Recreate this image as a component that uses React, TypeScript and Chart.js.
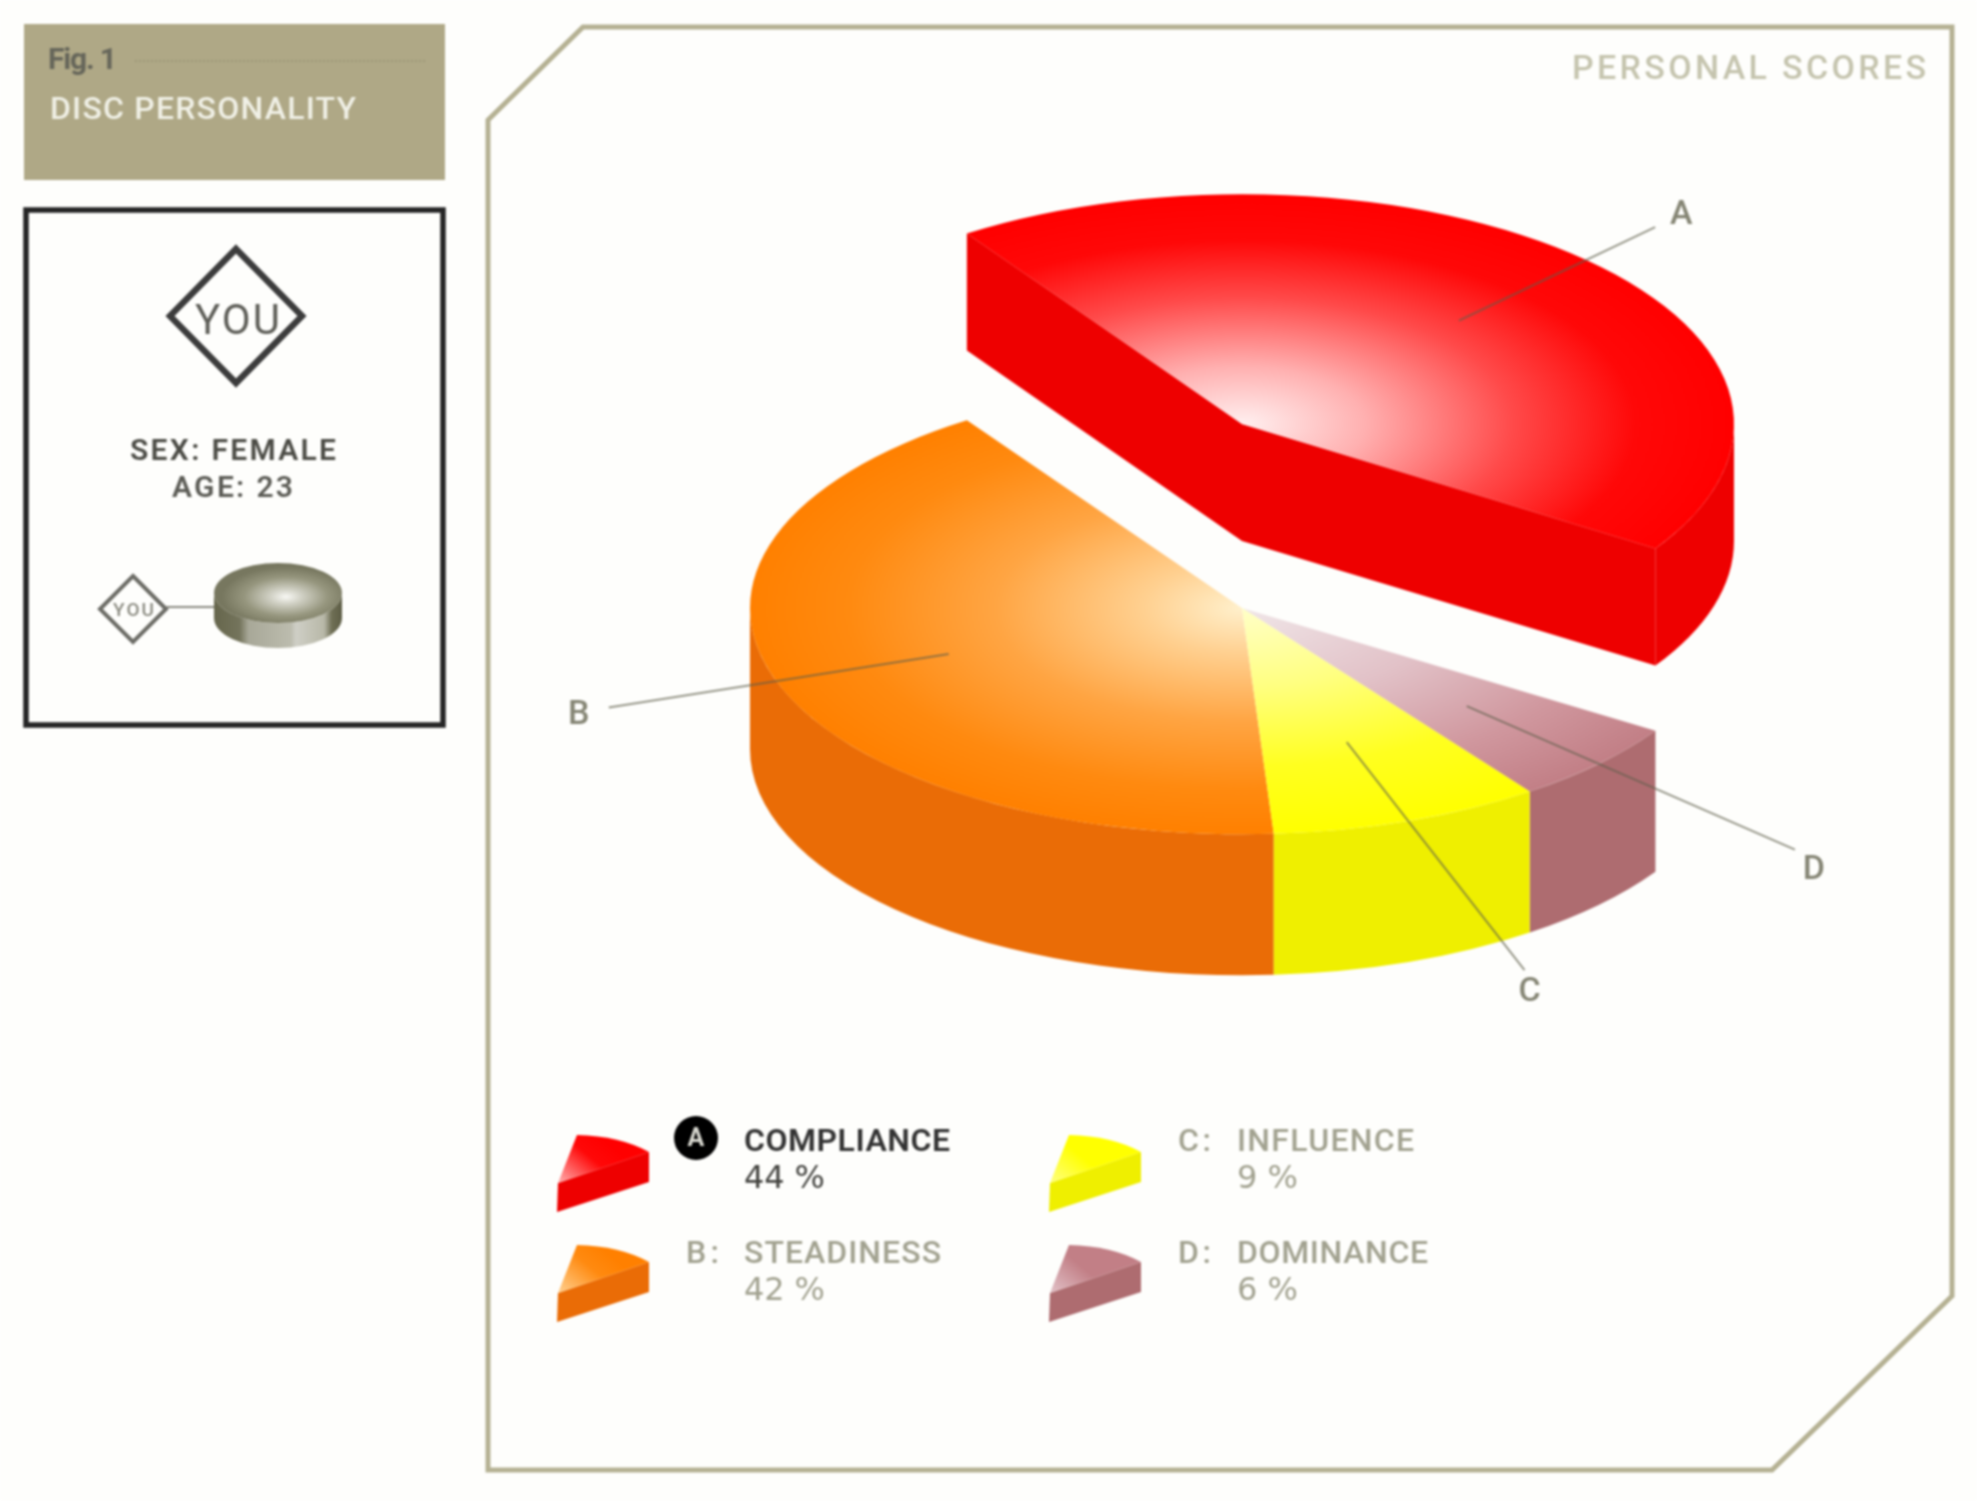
import React, { useEffect, useRef } from "react";
import { Chart, registerables } from "chart.js";

Chart.register(...registerables);

// ---- data ----
const sliceLetters = ["A", "D", "C", "B"];
const categories = ["COMPLIANCE", "DOMINANCE", "INFLUENCE", "STEADINESS"];
const scores = [44, 6, 9, 42];

// ---- styles ----
const topColors = [
  [[0, "#fff0f0"], [0.25, "#ffb0b0"], [0.55, "#ff4a4a"], [0.8, "#ff0808"], [1, "#ff0000"]],
  [[0, "#f0e6e8"], [0.4, "#e2c2c8"], [0.75, "#d0979e"], [1, "#c27f86"]],
  [[0, "#ffffc8"], [0.35, "#ffff80"], [0.7, "#ffff20"], [1, "#ffff00"]],
  [[0, "#fff0cc"], [0.2, "#ffd090"], [0.5, "#ffa543"], [0.8, "#ff8a10"], [1, "#ff8000"]],
];
const sideColors = ["#ee0000", "#ae6c70", "#efef00", "#ea6c06"];
const lift = [-184, 0, 0, 0];
const depth = [117, 141, 141, 141];
const ratios = [0.467, 0.46, 0.46, 0.46];
const leaderOuter = [1.2, 1.55, 1.7, 1.36];
const labelOffset = [[26, -12], [19, 21], [5, 22], [-30, 8]];
const CY = 608;
const FONT = "Roboto";

function txt(ctx: any, s: string, x: number, base: number, size: number, color: string, weight: number, targetW: number, family = FONT) {
  ctx.font = `${weight} ${size}px "${family}"`;
  ctx.letterSpacing = "0px";
  ctx.textAlign = "left";
  ctx.textBaseline = "alphabetic";
  const w = ctx.measureText(s).width;
  ctx.letterSpacing = `${(targetW - w) / Math.max(1, s.length - 1)}px`;
  ctx.fillStyle = color;
  ctx.fillText(s, x, base);
  ctx.letterSpacing = "0px";
}

function poly(ctx: any, pts: number[][]) {
  ctx.beginPath();
  pts.forEach((p, i) => (i ? ctx.lineTo(p[0], p[1]) : ctx.moveTo(p[0], p[1])));
  ctx.closePath();
}

function diamond(ctx: any, cx: number, cy: number, hw: number, hh: number, lw: number, color: string) {
  poly(ctx, [[cx, cy - hh], [cx + hw, cy], [cx, cy + hh], [cx - hw, cy]]);
  ctx.lineWidth = lw;
  ctx.strokeStyle = color;
  ctx.lineJoin = "miter";
  ctx.stroke();
}

function swatch(ctx: any, x: number, y: number, i: number) {
  poly(ctx, [[x, y], [x + 91, y - 31], [x + 91, y - 1], [x - 1, y + 29]]);
  ctx.fillStyle = sideColors[i];
  ctx.fill();
  const g = ctx.createLinearGradient(x, y, x + 40, y - 48);
  const st = topColors[i];
  g.addColorStop(0, st[1][1]);
  g.addColorStop(0.65, st[3][1]);
  g.addColorStop(1, st[4] ? st[4][1] : st[3][1]);
  ctx.beginPath();
  ctx.moveTo(x, y);
  ctx.lineTo(x + 19, y - 48);
  ctx.quadraticCurveTo(x + 62, y - 47, x + 91, y - 31);
  ctx.closePath();
  ctx.fillStyle = g;
  ctx.fill();
}

function drawFrame(ctx: any) {
  ctx.fillStyle = "#fefefc";
  ctx.fillRect(0, 0, 1977, 1501);

  // left header
  ctx.fillStyle = "#afa886";
  ctx.fillRect(24, 24, 421, 156);
  ctx.strokeStyle = "rgba(135,130,100,0.45)";
  ctx.lineWidth = 2;
  ctx.setLineDash([2, 2]);
  ctx.beginPath();
  ctx.moveTo(135, 61);
  ctx.lineTo(426, 61);
  ctx.stroke();
  ctx.setLineDash([]);
  txt(ctx, "Fig. 1", 48, 69, 30, "#66665a", 700, 69);
  txt(ctx, "DISC PERSONALITY", 50, 119, 32, "#f0f0e6", 500, 306);

  // you box
  ctx.strokeStyle = "#252525";
  ctx.lineWidth = 5.5;
  ctx.strokeRect(26, 210, 417, 515);
  diamond(ctx, 236, 316, 66, 67, 6.5, "#3c3c3c");
  txt(ctx, "YOU", 195, 334, 42, "#5e5e58", 400, 85);
  txt(ctx, "SEX: FEMALE", 130, 460, 30, "#4c4c46", 600, 206);
  txt(ctx, "AGE: 23", 172, 497, 30, "#5c5c56", 600, 121);
  diamond(ctx, 133, 609, 33, 33, 4, "#6c6c66");
  txt(ctx, "YOU", 113, 616, 19, "#8a8a80", 500, 41);
  ctx.strokeStyle = "#8a8a80";
  ctx.lineWidth = 2;
  ctx.beginPath();
  ctx.moveTo(166, 607);
  ctx.lineTo(214, 607);
  ctx.stroke();

  // thumbnail
  const tcx = 278, tcy = 593, trx = 64, tr = 30, td = 25;
  const wg = ctx.createLinearGradient(214, 0, 342, 0);
  [[0, "#66664c"], [0.2, "#74745c"], [0.27, "#a8a898"], [0.6, "#bcbcae"], [0.64, "#cfcfc6"], [0.86, "#b8b8a8"], [0.92, "#6f6f55"], [1, "#5d5d45"]].forEach((s: any) => wg.addColorStop(s[0], s[1]));
  ctx.beginPath();
  ctx.ellipse(tcx, tcy, trx, tr, 0, 0, Math.PI);
  ctx.ellipse(tcx, tcy + td, trx, tr, 0, Math.PI, 0, true);
  ctx.closePath();
  ctx.fillStyle = wg;
  ctx.fill();
  ctx.save();
  ctx.translate(tcx, tcy);
  ctx.scale(1, tr / trx);
  const tg = ctx.createRadialGradient(8, 8, 0, 8, 8, trx);
  [[0, "#f8f8f4"], [0.25, "#d0d0c4"], [0.65, "#96967e"], [1, "#77775f"]].forEach((s: any) => tg.addColorStop(s[0], s[1]));
  ctx.beginPath();
  ctx.arc(0, 0, trx, 0, Math.PI * 2);
  ctx.fillStyle = tg;
  ctx.fill();
  ctx.restore();

  // main frame
  poly(ctx, [[583, 27], [1952, 27], [1952, 1296], [1772, 1470], [488, 1470], [488, 120]]);
  ctx.strokeStyle = "#b5b193";
  ctx.lineWidth = 5;
  ctx.lineJoin = "miter";
  ctx.stroke();
  txt(ctx, "PERSONAL SCORES", 1572, 79, 34, "#c5c4ae", 500, 354);
}

const piePlugin = {
  id: "pie3d",
  beforeDraw(chart: any) {
    drawFrame(chart.ctx);
  },
  beforeDatasetDraw() {
    return false;
  },
  afterDatasetsDraw(chart: any) {
    const ctx = chart.ctx;
    const arcs = chart.getDatasetMeta(0).data;
    const order = [0, 1, 3, 2];
    order.forEach((i) => {
      const a = arcs[i];
      const rx = a.outerRadius;
      const ry = rx * ratios[i];
      const cx = a.x;
      const cy = CY + lift[i];
      const d = depth[i];
      const s = a.startAngle;
      const e = a.endAngle;
      ctx.fillStyle = sideColors[i];
      if (lift[i] !== 0) {
        [s, e].forEach((ang) => {
          const px = cx + rx * Math.cos(ang);
          const py = cy + ry * Math.sin(ang);
          poly(ctx, [[cx, cy], [px, py], [px, py + d], [cx, cy + d]]);
          ctx.fill();
        });
      }
      for (let k = -1; k <= 2; k++) {
        const lo = Math.max(s, k * 2 * Math.PI);
        const hi = Math.min(e, k * 2 * Math.PI + Math.PI);
        if (hi > lo) {
          ctx.beginPath();
          ctx.ellipse(cx, cy, rx, ry, 0, lo, hi);
          ctx.ellipse(cx, cy + d, rx, ry, 0, hi, lo, true);
          ctx.closePath();
          ctx.fill();
        }
      }
      ctx.save();
      ctx.translate(cx, cy);
      ctx.scale(1, ratios[i]);
      ctx.translate(-a.x, -a.y);
      a.draw(ctx);
      ctx.restore();
    });

    // leader lines + letters
    arcs.forEach((a: any, i: number) => {
      const rx = a.outerRadius;
      const ry = rx * ratios[i];
      const cy = CY + lift[i];
      const mid = (a.startAngle + a.endAngle) / 2;
      const x0 = a.x + 0.63 * rx * Math.cos(mid);
      const y0 = cy + 0.63 * ry * Math.sin(mid);
      const x1 = a.x + leaderOuter[i] * rx * Math.cos(mid);
      const y1 = cy + leaderOuter[i] * ry * Math.sin(mid);
      ctx.strokeStyle = "rgba(95,95,75,0.65)";
      ctx.lineWidth = 2;
      ctx.beginPath();
      ctx.moveTo(x0, y0);
      ctx.lineTo(x1, y1);
      ctx.stroke();
      ctx.font = `500 34px ${FONT}`;
      ctx.textAlign = "center";
      ctx.textBaseline = "middle";
      ctx.fillStyle = "#858574";
      ctx.fillText(sliceLetters[i], x1 + labelOffset[i][0], y1 + labelOffset[i][1]);
    });

    // legend
    const slots: Record<string, number[]> = { A: [558, 1183], B: [558, 1293], C: [1050, 1183], D: [1050, 1293] };
    const nameW = [206, 191, 177, 197];
    const pctW = [81, 61, 61, 81];
    sliceLetters.forEach((L, i) => {
      const [x, y] = slots[L];
      swatch(ctx, x, y, i);
      const tx = x + (L < "C" ? 186 : 187);
      const b1 = y - 32 + (y > 1200 ? 2 : 0);
      const active = L === "A";
      const col = active ? "#333333" : "#a2a290";
      txt(ctx, categories[i], tx, b1, 32, col, active ? 600 : 500, nameW[i]);
      txt(ctx, `${scores[i]} %`, tx, b1 + 37, 32, active ? "#444440" : "#a2a290", 400, pctW[i], "DejaVu Sans");
      if (active) {
        ctx.beginPath();
        ctx.arc(696, 1138, 22, 0, Math.PI * 2);
        ctx.fillStyle = "#000000";
        ctx.fill();
        ctx.font = `700 25px ${FONT}`;
        ctx.textAlign = "center";
        ctx.textBaseline = "middle";
        ctx.fillStyle = "#d8d8d0";
        ctx.fillText("A", 696, 1140);
      } else {
        txt(ctx, `${L}:`, x + 128, b1, 32, "#a2a290", 500, 33);
      }
    });
  },
};

export default function App() {
  const ref = useRef<HTMLCanvasElement>(null);
  useEffect(() => {
    const chart = new Chart(ref.current as any, {
      type: "pie",
      data: {
        labels: categories,
        datasets: [
          {
            data: scores,
            borderWidth: 0,
            backgroundColor: (c: any) => {
              const area = c.chart.chartArea;
              if (!area || c.dataIndex === undefined) return "#ccc";
              const x = (area.left + area.right) / 2;
              const y = (area.top + area.bottom) / 2;
              const r = (area.right - area.left) / 2;
              const g = c.chart.ctx.createRadialGradient(x, y, 0, x, y, r);
              topColors[c.dataIndex].forEach((s: any) => g.addColorStop(s[0], s[1]));
              return g;
            },
          },
        ],
      },
      options: {
        responsive: false,
        animation: false,
        rotation: -34,
        layout: { padding: { left: 750, right: 243, top: 0, bottom: 0 } },
        plugins: { legend: { display: false }, tooltip: { enabled: false }, title: { display: false } },
      },
      plugins: [piePlugin],
    } as any);
    return () => chart.destroy();
  }, []);
  return (
    <div style={{ position: "absolute", left: 0, top: 0, width: 1977, height: 1501, overflow: "hidden" }}>
      <canvas ref={ref} width={1977} height={1501} style={{ display: "block", filter: "blur(1px)" }} />
    </div>
  );
}
